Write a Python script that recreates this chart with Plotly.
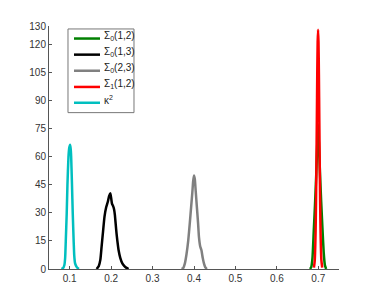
import plotly.graph_objects as go

# Density curves
green_x = [0.680, 0.683, 0.686, 0.689, 0.692, 0.695, 0.698, 0.6995, 0.701, 0.704, 0.707, 0.710, 0.713, 0.716, 0.719]
green_y = [0, 1, 6, 20, 34, 50, 70, 77.5, 70, 52, 36, 22, 9, 2, 0]

black_x = [0.165, 0.170, 0.174, 0.177, 0.180, 0.184, 0.188, 0.192, 0.195, 0.198, 0.200, 0.202, 0.205, 0.207,
           0.209, 0.211, 0.213, 0.215, 0.218, 0.222, 0.227, 0.232, 0.237, 0.242]
black_y = [0, 1.5, 5, 12, 19, 28, 33, 36, 39, 40.5, 38, 35, 33.5, 32, 29, 24, 19, 15, 10, 6, 3, 1.5, 0.6, 0]

gray_x = [0.370, 0.374, 0.378, 0.382, 0.386, 0.390, 0.393, 0.396, 0.398, 0.400, 0.402, 0.404, 0.407, 0.410,
          0.412, 0.415, 0.418, 0.421, 0.424, 0.427, 0.431]
gray_y = [0, 0.5, 3, 8, 15, 25, 33, 41, 47, 50, 48, 42, 33, 24, 17, 12, 10, 6, 3, 1, 0]

red_x = [0.6895, 0.6915, 0.6935, 0.6945, 0.6955, 0.6965, 0.6975, 0.6985, 0.6995, 0.7005, 0.7015, 0.7025,
         0.7035, 0.7045, 0.7055, 0.7075, 0.7095]
red_y = [0.7, 4.6, 19.7, 34.8, 55.7, 80, 104, 121.5, 128, 121.5, 104, 80, 55.7, 34.8, 19.7, 4.6, 0.7]

cyan_x = [0.080, 0.084, 0.087, 0.089, 0.0905, 0.0928, 0.0945, 0.097, 0.099, 0.101, 0.1025, 0.1035, 0.1055,
          0.1073, 0.1095, 0.111, 0.113, 0.117, 0.122]
cyan_y = [0, 0.5, 2, 6, 15, 30, 45, 60, 65, 66.5, 64, 60, 45, 30, 15, 7, 3, 1, 0]

x_ticks = [0.1, 0.2, 0.3, 0.4, 0.5, 0.6, 0.7]
x_tick_labels = ["0.1", "0.2", "0.3", "0.4", "0.5", "0.6", "0.7"]
y_ticks = [0, 15, 30, 45, 60, 75, 90, 105, 120, 130]
y_tick_labels = ["0", "15", "30", "45", "60", "75", "90", "105", "120", "130"]

series_names = ["Σ<sub>0</sub>(1,2)", "Σ<sub>0</sub>(1,3)", "Σ<sub>0</sub>(2,3)", "Σ<sub>1</sub>(1,2)", "κ<sup>2</sup>"]
series_colors = ["#008000", "#000000", "#808080", "#ff0000", "#00bfbf"]
series_x = [green_x, black_x, gray_x, red_x, cyan_x]
series_y = [green_y, black_y, gray_y, red_y, cyan_y]

fig = go.Figure()
for name, xs, ys, col in zip(series_names, series_x, series_y, series_colors):
    fig.add_trace(go.Scatter(x=xs, y=ys, mode="lines", name=name, showlegend=False,
                             line=dict(color=col, width=2.5, shape="spline", smoothing=0.5)))

# Hand-built legend box (layout only, in paper coordinates)
box_x0, box_x1, box_y0, box_y1 = 0.0655, 0.2931, 0.6435, 0.9878
line_x0, line_x1, text_x = 0.0862, 0.1759, 0.1828
entry_y = [0.9484, 0.8821, 0.8159, 0.7492, 0.6841]
shapes = [dict(type="rect", xref="paper", yref="paper", x0=box_x0, x1=box_x1, y0=box_y0, y1=box_y1,
               line=dict(color="#777777", width=1), fillcolor="white", layer="above")]
annotations = []
for name, col, ey in zip(series_names, series_colors, entry_y):
    shapes.append(dict(type="line", xref="paper", yref="paper", x0=line_x0, x1=line_x1, y0=ey, y1=ey,
                       line=dict(color=col, width=2.5), layer="above"))
    annotations.append(dict(xref="paper", yref="paper", x=text_x, y=ey + 0.012, text=name, showarrow=False,
                            xanchor="left", yanchor="middle", font=dict(size=10, color="#222222")))

axis_col = "#555555"
fig.update_layout(
    width=366, height=295,
    margin=dict(l=41, r=35, t=15, b=34),
    paper_bgcolor="white", plot_bgcolor="white",
    font=dict(family="Liberation Sans, Arial, sans-serif", size=10, color="#333333"),
    showlegend=False,
    shapes=shapes, annotations=annotations,
    xaxis=dict(range=[0.05, 0.75], tickvals=x_ticks, ticktext=x_tick_labels,
               showgrid=False, zeroline=False, showline=True, linecolor=axis_col, linewidth=1,
               ticks="inside", ticklen=3, tickcolor=axis_col, mirror=False),
    yaxis=dict(range=[0, 130], tickvals=y_ticks, ticktext=y_tick_labels,
               showgrid=False, zeroline=False, showline=True, linecolor=axis_col, linewidth=1,
               ticks="inside", ticklen=3, tickcolor=axis_col, mirror=False),
)

fig.write_html("out.html")
